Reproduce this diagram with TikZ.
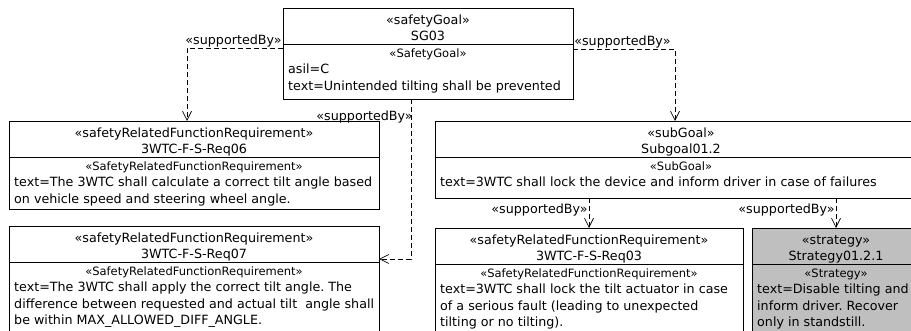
\documentclass[tikz,border=0pt]{standalone}
\usepackage{fontspec}
\setmainfont{DejaVu Sans}
\frenchspacing
\usepackage{tikz}
\usetikzlibrary{arrows.meta,positioning}
\tikzset{
  blk/.style={draw, line width=0.9pt, anchor=north west, inner sep=0pt, outer sep=0pt},
  hdr/.style={inner sep=0pt, align=center, font=\fontsize{12.7}{16}\selectfont},
  ster/.style={inner sep=0pt, font=\fontsize{11.5}{14}\selectfont},
  txt/.style={inner sep=0pt, align=left, font=\fontsize{12.7}{16.5}\selectfont},
  suppby/.style={dash pattern=on 5pt off 3pt, line width=0.7pt, -{Straight Barb[length=9pt,width=9pt]}},
  lbl/.style={inner sep=1pt, font=\fontsize{12.7}{14}\selectfont},
}
\begin{document}
\begin{tikzpicture}[x=1pt,y=-1pt]
\useasboundingbox (0,0) rectangle (911,331);
\clip (0,0) rectangle (911,331);

\node[blk, minimum width=290pt, minimum height=91pt] (sg03) at (283,8) {};
\node[hdr, below=7pt of sg03.north] (sg03-h) {«safetyGoal»\\SG03};
\draw ([yshift=-36pt]sg03.north west) -- ([yshift=-36pt]sg03.north east);
\node[ster, below=41pt of sg03.north] (sg03-s) {«SafetyGoal»};
\node[txt, below right=56pt and 5pt of sg03.north west] (sg03-t) {asil=C\\text=Unintended tilting shall be prevented};

\node[blk, minimum width=370pt, minimum height=88pt] (req06) at (9,121) {};
\node[hdr, below=7pt of req06.north] (req06-h) {«safetyRelatedFunctionRequirement»\\3WTC-F-S-Req06};
\draw ([yshift=-36pt]req06.north west) -- ([yshift=-36pt]req06.north east);
\node[ster, below=41pt of req06.north] (req06-s) {«SafetyRelatedFunctionRequirement»};
\node[txt, below right=56pt and 5pt of req06.north west] (req06-t) {text=The 3WTC shall calculate a correct tilt angle based\\on vehicle speed and steering wheel angle.};

\node[blk, minimum width=370pt, minimum height=120pt] (req07) at (9,226) {};
\node[hdr, below=7pt of req07.north] (req07-h) {«safetyRelatedFunctionRequirement»\\3WTC-F-S-Req07};
\draw ([yshift=-36pt]req07.north west) -- ([yshift=-36pt]req07.north east);
\node[ster, below=41pt of req07.north] (req07-s) {«SafetyRelatedFunctionRequirement»};
\node[txt, below right=56pt and 5pt of req07.north west] (req07-t) {text=The 3WTC shall apply the correct tilt angle. The\\difference between requested and actual tilt\ \ angle shall\\be within MAX\_ALLOWED\_DIFF\_ANGLE.};

\node[blk, minimum width=492pt, minimum height=77pt] (sub) at (435,121) {};
\node[hdr, below=7pt of sub.north] (sub-h) {«subGoal»\\Subgoal01.2};
\draw ([yshift=-36pt]sub.north west) -- ([yshift=-36pt]sub.north east);
\node[ster, below=41pt of sub.north] (sub-s) {«SubGoal»};
\node[txt, below right=56pt and 5pt of sub.north west] (sub-t) {text=3WTC shall lock the device and inform driver in case of failures};

\node[blk, minimum width=308pt, minimum height=120pt] (req03) at (435,228) {};
\node[hdr, below=7pt of req03.north] (req03-h) {«safetyRelatedFunctionRequirement»\\3WTC-F-S-Req03};
\draw ([yshift=-36pt]req03.north west) -- ([yshift=-36pt]req03.north east);
\node[ster, below=41pt of req03.north] (req03-s) {«SafetyRelatedFunctionRequirement»};
\node[txt, below right=56pt and 5pt of req03.north west] (req03-t) {text=3WTC shall lock the tilt actuator in case\\of a serious fault (leading to unexpected\\tilting or no tilting).};

\node[blk, fill=gray!50, minimum width=168pt, minimum height=120pt] (strat) at (752,228) {};
\node[hdr, below=7pt of strat.north] (strat-h) {«strategy»\\Strategy01.2.1};
\draw ([yshift=-36pt]strat.north west) -- ([yshift=-36pt]strat.north east);
\node[ster, below=41pt of strat.north] (strat-s) {«Strategy»};
\node[txt, below right=56pt and 5pt of strat.north west] (strat-t) {text=Disable tilting and\\inform driver. Recover\\only in standstill.};

\draw[suppby] ([yshift=-40pt]sg03.north west) node[lbl, above left] (l1) {«supportedBy»} -| ([xshift=-7pt]req06.north);
\draw[suppby] ([yshift=-41pt]sg03.north east) node[lbl, above right] (l2) {«supportedBy»} -| ([xshift=-6pt]sub.north);
\draw[suppby] ([xshift=-17pt]sg03.south) |- node[lbl, pos=0.056, left, xshift=3pt] (l3) {«supportedBy»} ([yshift=-33pt]req07.north east);
\draw[suppby] (req03.north |- sub.south) -- node[lbl, pos=0.4, left] (l4) {«supportedBy»} (req03.north);
\draw[suppby] (strat.north |- sub.south) -- node[lbl, pos=0.4, left] (l5) {«supportedBy»} (strat.north);
\end{tikzpicture}
\end{document}
